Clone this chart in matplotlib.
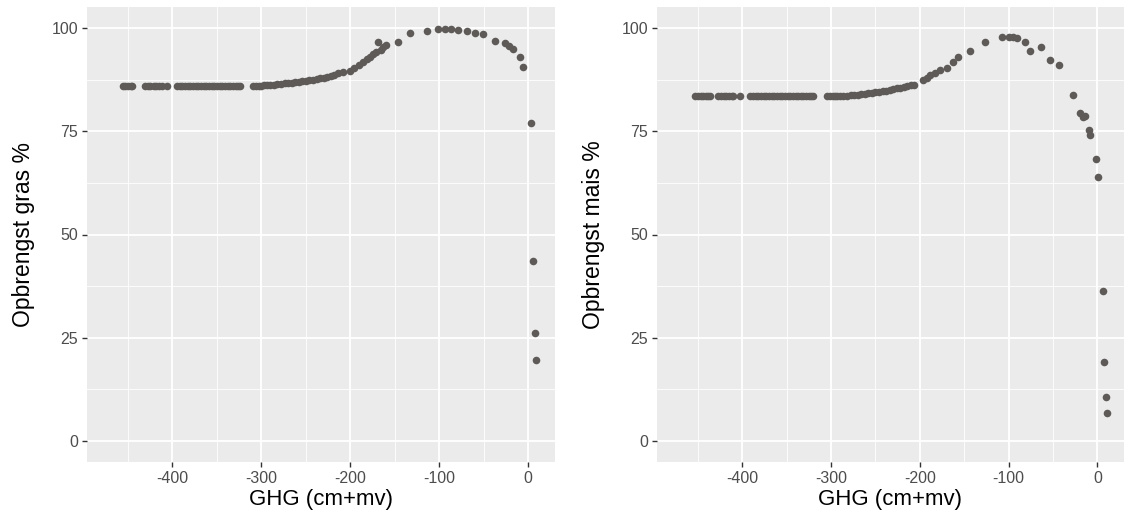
import matplotlib.pyplot as plt
from matplotlib.ticker import MultipleLocator

plt.rcParams['font.family'] = ['Liberation Sans', 'DejaVu Sans']
plt.rcParams['axes.unicode_minus'] = False

# Opbrengst gras (%) tegen GHG (cm+mv)
ghg_gras = [-456, -453, -450, -447, -445,
            -431, -428, -425, -421, -418, -415, -412, -406,
            -395, -392, -389, -386, -383, -380, -377, -374, -371, -368, -365,
            -362, -359, -356, -353, -350, -347, -344, -341, -338, -335, -332,
            -329, -326, -324,
            -309, -306, -303, -300, -297, -294, -290, -286, -282, -278, -274,
            -270, -266, -262, -258, -254, -250, -246, -242, -238, -234, -230,
            -226, -222, -218, -214, -208,
            -200, -196, -190, -186, -181, -178, -174, -171, -169, -166, -163,
            -160, -147, -133, -114, -101, -94, -87, -79, -69, -60, -51,
            -37, -26, -22, -17, -9, -6,
            3, 5, 8, 9]
opbr_gras = [86.0, 86.0, 86.0, 86.0, 86.0,
             86.0, 86.0, 86.0, 86.0, 86.0, 86.0, 86.0, 86.0,
             86.0, 86.0, 86.0, 86.0, 86.0, 86.0, 86.0, 86.0, 86.0, 86.0, 86.0,
             86.0, 86.0, 86.0, 86.0, 86.0, 86.0, 86.0, 86.0, 86.0, 86.0, 86.0,
             86.0, 86.0, 86.0,
             86.0, 86.0, 86.0, 86.0, 86.1, 86.1, 86.2, 86.3, 86.4, 86.5, 86.6,
             86.7, 86.8, 86.9, 87.0, 87.1, 87.2, 87.4, 87.5, 87.7, 87.8, 88.0,
             88.2, 88.4, 88.6, 89.0, 89.4,
             89.6, 90.3, 91.0, 91.8, 92.6, 93.1, 93.7, 94.2, 96.6, 94.8, 95.3,
             96.0, 96.7, 98.7, 99.3, 99.7, 99.7, 99.7, 99.6, 99.2, 98.8, 98.6,
             96.9, 96.3, 95.6, 95.0, 93.0, 90.6,
             77.1, 43.6, 26.2, 19.6]

# Opbrengst mais (%) tegen GHG (cm+mv)
ghg_mais = [-453, -450, -447, -444, -441, -438, -436,
            -427, -424, -421, -418, -415, -412, -410, -403,
            -391, -388, -385, -382, -379, -376, -373, -370, -367, -364, -361,
            -358, -355, -352, -349, -346, -343, -340, -337, -334, -331, -328,
            -325, -322, -320,
            -304, -301, -298, -295, -293, -290, -286, -282, -278, -274, -270,
            -266, -262, -258, -254, -250, -246, -242, -238, -234, -230, -226,
            -222, -218, -214, -210, -207,
            -196, -192, -188, -183, -177, -169, -163, -157, -143, -127,
            -107, -99, -95, -91, -81, -76, -64, -53, -43,
            -28, -19, -16, -14, -9, -8, -2, 1,
            6, 8, 10, 11]
opbr_mais = [83.5, 83.5, 83.5, 83.5, 83.5, 83.5, 83.5,
             83.5, 83.5, 83.5, 83.5, 83.5, 83.5, 83.5, 83.5,
             83.5, 83.5, 83.5, 83.5, 83.5, 83.5, 83.5, 83.5, 83.5, 83.5, 83.5,
             83.5, 83.5, 83.5, 83.5, 83.5, 83.5, 83.5, 83.5, 83.5, 83.5, 83.5,
             83.5, 83.5, 83.5,
             83.5, 83.5, 83.5, 83.5, 83.5, 83.5, 83.6, 83.6, 83.7, 83.8, 83.9,
             84.0, 84.1, 84.2, 84.3, 84.4, 84.5, 84.7, 84.8, 85.0, 85.2, 85.4,
             85.6, 85.8, 86.0, 86.1, 86.3,
             87.4, 88.0, 88.6, 89.1, 89.8, 90.3, 91.8, 93.0, 94.4, 96.6,
             97.8, 97.9, 97.8, 97.7, 96.6, 94.4, 95.4, 92.2, 91.0,
             83.8, 79.4, 78.5, 78.7, 75.3, 74.0, 68.3, 63.9,
             36.3, 19.1, 10.6, 6.8]

x_ticks = [-400, -300, -200, -100, 0]
y_ticks = [0, 25, 50, 75, 100]

W, H = 1126, 522
fig = plt.figure(figsize=(W / 100, H / 100), dpi=100)
fig.patch.set_facecolor('white')


def panel(x0, x1, y_top, y_bot, x, y, ylabel):
    ax = fig.add_axes([x0 / W, 1 - y_bot / H, (x1 - x0) / W, (y_bot - y_top) / H])
    ax.set_facecolor('#EBEBEB')
    for s in ax.spines.values():
        s.set_visible(False)
    ax.set_xlim(-496, 30)
    ax.set_ylim(-5.1, 105.1)
    ax.set_xticks(x_ticks)
    ax.set_yticks(y_ticks)
    ax.xaxis.set_minor_locator(MultipleLocator(100, offset=50))
    ax.yaxis.set_minor_locator(MultipleLocator(25, offset=12.5))
    ax.grid(which='major', color='white', linewidth=1.3)
    ax.grid(which='minor', color='white', linewidth=0.6)
    ax.set_axisbelow(True)
    ax.tick_params(which='major', length=3.5, width=1, color='#333333',
                   labelcolor='#4D4D4D', labelsize=11.5, pad=3)
    ax.tick_params(which='minor', length=0)
    ax.scatter(x, y, s=30, color='#5e5a58', linewidths=0, zorder=3)
    ax.set_xlabel('GHG (cm+mv)', fontsize=16, labelpad=2)
    ax.set_ylabel(ylabel, fontsize=16.5, labelpad=12)
    return ax


panel(87, 555, 7, 462, ghg_gras, opbr_gras, 'Opbrengst gras %')
panel(657, 1124, 7, 462, ghg_mais, opbr_mais, 'Opbrengst mais %')

fig.savefig('out.png', dpi=100)
